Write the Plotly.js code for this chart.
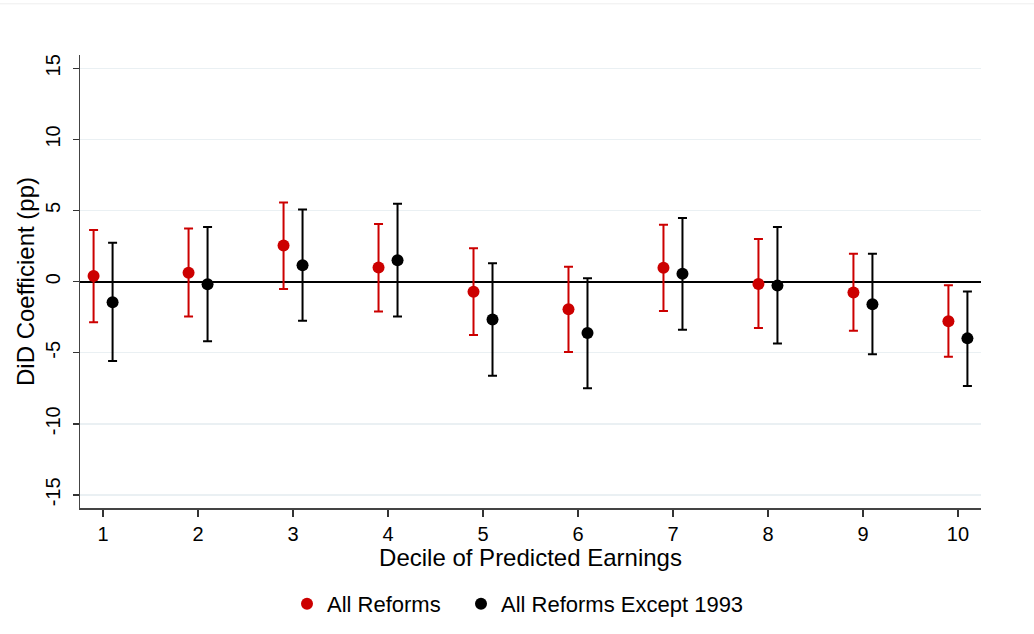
<!DOCTYPE html>
<html>
<head>
<meta charset="utf-8">
<script src="https://cdn.plot.ly/plotly-3.0.1.min.js"></script>
<style>html,body{margin:0;padding:0;background:#fff;}#chart{width:1034px;height:634px;}</style>
</head>
<body>
<div id="chart"></div>
<script>
const deciles = [1,2,3,4,5,6,7,8,9,10];
const allCoef  = [0.40, 0.63, 2.54, 0.99, -0.71, -1.94, 0.97, -0.16, -0.76, -2.78];
const allHi    = [3.63, 3.73, 5.56, 4.06, 2.34, 1.04, 4.00, 3.00, 1.96, -0.26];
const allLo    = [-2.85, -2.46, -0.52, -2.10, -3.75, -4.94, -2.07, -3.26, -3.45, -5.28];
const exCoef   = [-1.45, -0.18, 1.15, 1.51, -2.67, -3.61, 0.55, -0.28, -1.59, -3.99];
const exHi     = [2.73, 3.85, 5.07, 5.47, 1.30, 0.23, 4.48, 3.85, 1.96, -0.69];
const exLo     = [-5.58, -4.20, -2.75, -2.46, -6.61, -7.49, -3.38, -4.35, -5.10, -7.34];
const yTicks = [-15, -10, -5, 0, 5, 10, 15];
const yTickText = ['-15', '-10', '-5', '0', '5', '10', '15'];
const seriesNames = ['All Reforms', 'All Reforms Except 1993'];
const colors = ['#cc0000', '#000000'];
const offset = 0.1;

function mk(coef, hi, lo, dx, name, color, legendId) {
  return {
    type: 'scatter', mode: 'markers', name: name, legend: legendId,
    x: deciles.map(d => d + dx), y: coef,
    marker: {color: color, size: 12},
    error_y: {type: 'data', symmetric: false,
      array: hi.map((h, i) => h - coef[i]),
      arrayminus: lo.map((l, i) => coef[i] - l),
      color: color, thickness: 2, width: 4.5},
    cliponaxis: false
  };
}

const data = [
  mk(allCoef, allHi, allLo, -offset, seriesNames[0], colors[0], 'legend'),
  mk(exCoef, exHi, exLo, offset, seriesNames[1], colors[1], 'legend2')
];

const legendBase = {orientation: 'h', yanchor: 'middle', y: -0.212, xanchor: 'left',
  font: {size: 22}, itemwidth: 30, bgcolor: 'rgba(0,0,0,0)'};

const layout = {
  width: 1034, height: 634,
  paper_bgcolor: '#fff', plot_bgcolor: '#fff',
  margin: {l: 80, r: 53, t: 55, b: 126, autoexpand: false},
  font: {family: 'Liberation Sans, Arial, sans-serif', color: '#000'},
  showlegend: true,
  legend: Object.assign({}, legendBase, {x: (308 - 21 - 80) / 901}),
  legend2: Object.assign({}, legendBase, {x: (482 - 21 - 80) / 901}),
  xaxis: {
    range: [0.757, 10.243], tickmode: 'array', tickvals: deciles, ticktext: deciles.map(String),
    showgrid: false, zeroline: false, showline: true, linecolor: '#444', linewidth: 1.5,
    ticks: 'outside', ticklen: 7, tickwidth: 1.5, tickcolor: '#333',
    tickfont: {size: 20}, automargin: true,
    title: {text: 'Decile of Predicted Earnings', font: {size: 24}, standoff: 0}
  },
  yaxis: {
    range: [-15.92, 15.94], tickmode: 'array', tickvals: yTicks, ticktext: yTickText,
    showgrid: true, gridcolor: '#eaf0f3', gridwidth: 1.5,
    zeroline: true, zerolinecolor: '#000', zerolinewidth: 2,
    showline: true, linecolor: '#444', linewidth: 1.5,
    ticks: 'outside', ticklen: 6, tickwidth: 1.5, tickcolor: '#333',
    tickangle: -90, tickfont: {size: 20}, ticklabelstandoff: 5, automargin: true,
    title: {text: 'DiD Coefficient (pp)', font: {size: 24}, standoff: 0}
  },
  shapes: [
    {type: 'line', xref: 'paper', yref: 'paper', x0: -0.09, x1: 1.06, y0: 1.113, y1: 1.113,
     line: {color: '#eeeeee', width: 1}}
  ]
};

Plotly.newPlot('chart', data, layout, {displayModeBar: false, staticPlot: true});
</script>
</body>
</html>
